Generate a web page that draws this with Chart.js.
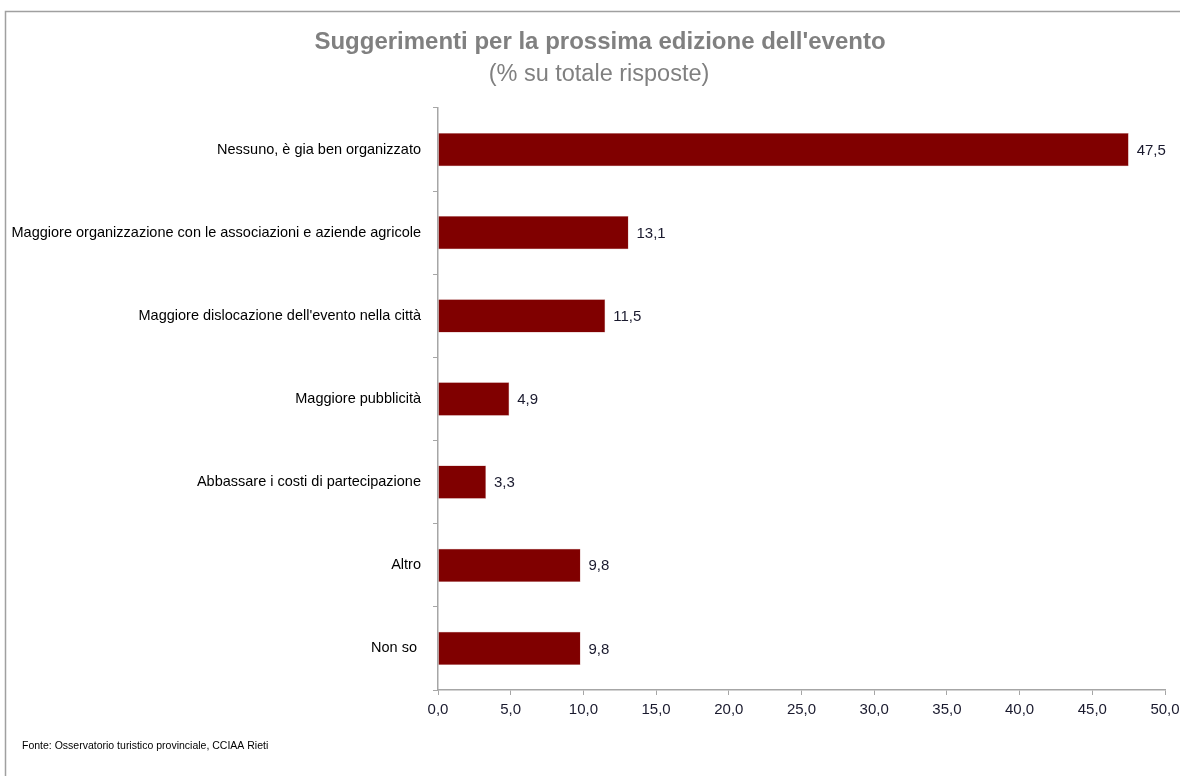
<!DOCTYPE html>
<html><head><meta charset="utf-8">
<script src="https://cdn.jsdelivr.net/npm/chart.js@4/dist/chart.umd.min.js"></script>
<style>html,body{margin:0;padding:0;background:#fff}#wrap{width:1180px;height:776px;position:relative}</style>
</head><body><div id="wrap"><canvas id="c" width="1180" height="776"></canvas></div>
<script>
const categories = ["Nessuno, è gia ben organizzato","Maggiore organizzazione con le associazioni e aziende agricole","Maggiore dislocazione dell'evento nella città","Maggiore pubblicità","Abbassare i costi di partecipazione","Altro","Non so "];
const values = [47.5, 13.1, 11.5, 4.9, 3.3, 9.8, 9.8];
const titleText = "Suggerimenti per la prossima edizione dell'evento";
const subtitleText = "(% su totale risposte)";
const sourceText = "Fonte: Osservatorio turistico provinciale, CCIAA Rieti";
const FONT = "'Liberation Sans', Arial, sans-serif";
const fmt = v => v.toFixed(1).replace('.', ',');

const decor = {
  id: 'decor',
  beforeDraw(chart) {
    const ctx = chart.ctx;
    ctx.save();
    ctx.strokeStyle = '#a0a0a0';
    ctx.lineWidth = 1.5;
    ctx.beginPath();
    ctx.moveTo(5.5, 776); ctx.lineTo(5.5, 11.5); ctx.lineTo(1180, 11.5);
    ctx.stroke();
    ctx.textAlign = 'center';
    ctx.textBaseline = 'middle';
    ctx.fillStyle = '#808080';
    ctx.font = "bold 24px " + FONT;
    ctx.fillText(titleText, 600, 42);
    ctx.font = "23.5px " + FONT;
    ctx.fillText(subtitleText, 599, 75);
    ctx.textAlign = 'left';
    ctx.fillStyle = '#000';
    ctx.font = "10.5px " + FONT;
    ctx.fillText(sourceText, 22, 746);
    ctx.restore();
  },
  afterDatasetsDraw(chart) {
    const ctx = chart.ctx;
    const meta = chart.getDatasetMeta(0);
    ctx.save();
    ctx.font = "15px " + FONT;
    ctx.fillStyle = '#1a1a2e';
    ctx.textAlign = 'left';
    ctx.textBaseline = 'middle';
    meta.data.forEach((bar, i) => {
      ctx.fillText(fmt(values[i]), bar.x + 8, bar.y + 1);
    });
    ctx.restore();
  }
};

new Chart(document.getElementById('c'), {
  type: 'bar',
  data: {
    labels: categories,
    datasets: [{
      data: values,
      backgroundColor: '#800000',
      borderColor: '#c08080',
      borderWidth: 0.5,
      barPercentage: 0.4,
      categoryPercentage: 1.0
    }]
  },
  options: {
    indexAxis: 'y',
    responsive: false,
    animation: false,
    layout: { padding: { left: 0, right: 0, top: 108, bottom: 46 } },
    plugins: { legend: { display: false }, tooltip: { enabled: false } },
    scales: {
      x: {
        min: 0, max: 50,
        ticks: { stepSize: 5, color: '#1a1a2e', font: { family: FONT, size: 15 }, padding: 6, callback: v => fmt(v), maxRotation: 0 },
        grid: { drawOnChartArea: false, drawTicks: true, tickLength: 5, color: '#a6a6a6' },
        border: { color: '#a6a6a6', width: 1.5 },
        afterFit(s) { s.height = 40; s.paddingRight = 15; }
      },
      y: {
        ticks: { color: '#000', font: { family: FONT, size: 14.5 }, padding: 12 },
        grid: { offset: true, drawOnChartArea: false, drawTicks: true, tickLength: 5, color: '#a6a6a6' },
        border: { color: '#a6a6a6', width: 1.5 },
        afterFit(s) { s.width = 438; }
      }
    }
  },
  plugins: [decor]
});
</script>
</body></html>
